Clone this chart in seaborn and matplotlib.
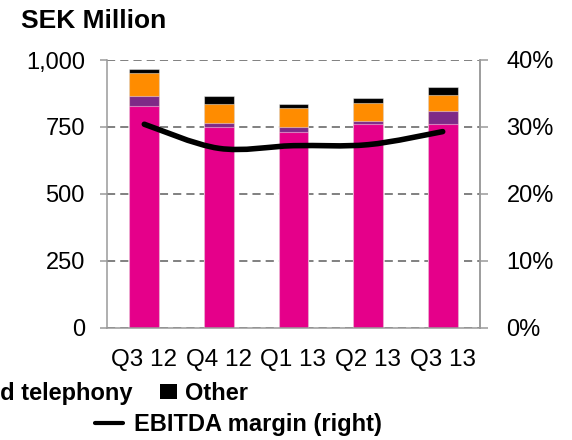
import numpy as np
import matplotlib
matplotlib.use("Agg")
import matplotlib.pyplot as plt
from matplotlib.patches import Patch, PathPatch
from matplotlib.lines import Line2D
from matplotlib.path import Path
from matplotlib.ticker import FuncFormatter
import seaborn as sns

# Quarterly net sales by segment (SEK million) and EBITDA margin (%)
quarters = ["Q3 12", "Q4 12", "Q1 13", "Q2 13", "Q3 13"]
mobile = [828, 751, 730, 760, 761]
fixed_broadband = [36, 15, 21, 14, 50]
fixed_telephony = [88, 68, 68, 67, 60]
other = [15, 30, 16, 16, 30]
ebitda_margin = [30.4, 26.8, 27.2, 27.35, 29.3]

series_names = ["Mobile", "Fixed broadband", "Fixed telephony", "Other"]
series_colors = ["#E5008A", "#7E2A87", "#FF8C00", "#000000"]
margin_label = "EBITDA margin (right)"

sns.set_theme(style="white")
plt.rcParams["font.family"] = ["Liberation Sans", "DejaVu Sans"]
plt.rcParams["text.color"] = "black"

GRAY = "#9A9A9A"
GRID = "#808080"

fig = plt.figure(figsize=(5.72, 4.40), dpi=100)
ax = fig.add_axes([107 / 572, 1 - 327.7 / 440, 373 / 572, 267.7 / 440])

# stacked bars: draw cumulative totals from the top segment down
stack = np.cumsum(np.array([mobile, fixed_broadband, fixed_telephony, other]), axis=0)
for i in reversed(range(len(series_names))):
    sns.barplot(x=quarters, y=stack[i], order=quarters, color=series_colors[i],
                saturation=1, width=0.4, errorbar=None,
                edgecolor=(1, 1, 1, 0.45), linewidth=0.8, ax=ax)

ax.set_xlim(-0.5, len(quarters) - 0.5)
ax.set_ylim(0, 1000)
ax.set_yticks([0, 250, 500, 750, 1000])
ax.yaxis.set_major_formatter(FuncFormatter(lambda v, p: f"{int(v):,}"))
ax.set_xlabel("")
ax.set_ylabel("")
ax.yaxis.grid(True, linestyle=(0, (4.2, 2.6)), color=GRID, linewidth=1.4)
ax.xaxis.grid(False)
ax.set_axisbelow(True)

ax.set_xticks(range(len(quarters)))
ax.set_xticklabels(quarters)
ax.set_xticks(np.arange(-0.5, len(quarters), 1), minor=True)
ax.tick_params(axis="x", which="major", length=0, pad=15, labelsize=17.5, labelcolor="black")
ax.tick_params(axis="x", which="minor", length=5, width=1.1, color=GRAY, direction="out")
ax.tick_params(axis="y", length=5, width=1.1, color=GRAY, direction="out", pad=11,
               labelsize=17, labelcolor="black", left=True)

for side in ["left", "bottom", "right"]:
    ax.spines[side].set_color(GRAY)
    ax.spines[side].set_linewidth(1.1)
ax.spines["top"].set_visible(False)

# EBITDA margin on the secondary axis, drawn as a smoothed curve
ax2 = ax.twinx()
ax2.set_ylim(0, 40)
ax2.set_yticks([0, 10, 20, 30, 40])
ax2.yaxis.set_major_formatter(FuncFormatter(lambda v, p: f"{int(v)}%"))
ax2.tick_params(axis="y", length=6, width=1.1, color=GRAY, direction="out", pad=13,
                labelsize=17, labelcolor="black", right=True)
for side in ["left", "bottom", "top"]:
    ax2.spines[side].set_visible(False)
ax2.spines["right"].set_color(GRAY)
ax2.spines["right"].set_linewidth(1.1)
ax2.grid(False)

pts = np.column_stack([np.arange(len(ebitda_margin)), ebitda_margin]).astype(float)
ext = np.vstack([pts[0], pts, pts[-1]])
verts = [tuple(pts[0])]
codes = [Path.MOVETO]
for k in range(1, len(ext) - 2):
    p0, p1, p2, p3 = ext[k - 1], ext[k], ext[k + 1], ext[k + 2]
    c1 = p1 + (p2 - p0) / 6.0
    c2 = p2 - (p3 - p1) / 6.0
    verts += [tuple(c1), tuple(c2), tuple(p2)]
    codes += [Path.CURVE4] * 3
ax2.add_patch(PathPatch(Path(verts, codes), fill=False, edgecolor="black",
                        linewidth=4, capstyle="round", joinstyle="round"))

fig.text(21 / 572, 1 - 28.5 / 440, "SEK Million", fontsize=19, fontweight="bold",
         va="baseline", ha="left", color="black")

handles = [Patch(facecolor=c, edgecolor="none") for c in series_colors]
fig.legend(handles=handles, labels=series_names, ncol=4, loc="lower right",
           bbox_to_anchor=(248 / 572, 1 - 405 / 440), frameon=False, borderpad=0,
           borderaxespad=0, handlelength=0.72, handleheight=0.6, handletextpad=0.34,
           columnspacing=1.15, labelcolor="black", prop={"weight": "bold", "size": 17})
fig.legend(handles=[Line2D([], [], color="black", linewidth=3)], labels=[margin_label],
           loc="lower right", bbox_to_anchor=(382 / 572, 1 - 436 / 440), frameon=False,
           borderpad=0, borderaxespad=0, handlelength=1.19, handletextpad=0.47,
           labelcolor="black", prop={"weight": "bold", "size": 17})

fig.savefig("out.png", dpi=100)
